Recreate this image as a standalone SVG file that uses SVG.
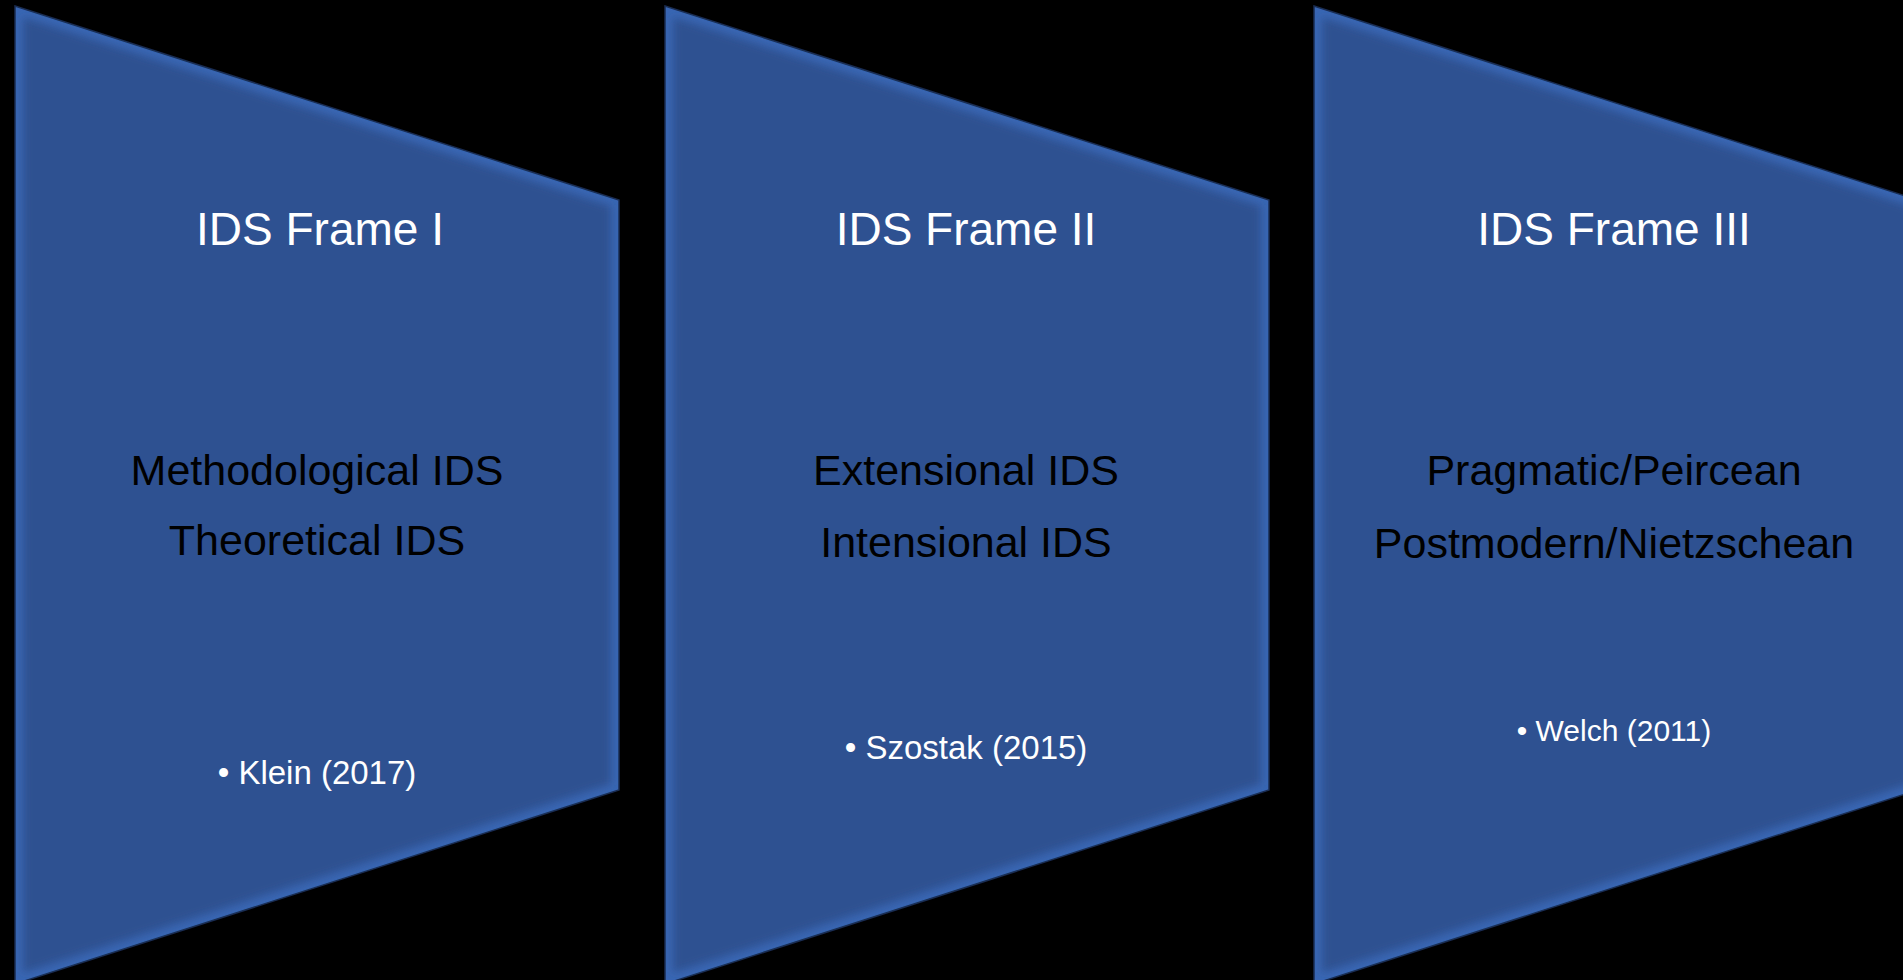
<svg xmlns="http://www.w3.org/2000/svg" xmlns:xlink="http://www.w3.org/1999/xlink" width="1903" height="980" viewBox="0 0 1903 980">
<style>
text{font-family:"Liberation Sans",Arial,sans-serif;text-anchor:middle}
.title{fill:#ffffff;font-size:46px}
.body{fill:#000000;font-size:43px}
.ref{fill:#ffffff;font-size:33px}
</style>
<defs>
<filter id="soft" x="-5%" y="-5%" width="110%" height="110%"><feGaussianBlur stdDeviation="4"/></filter>
<g id="frame">
<polygon points="15,6 619,200 619,790 15,984" fill="#3966b3" stroke="#1a2d52" stroke-width="1.5"/>
<polygon points="23,17 611,206 611,784 23,973" fill="#2f5191" filter="url(#soft)"/>
</g>
</defs>
<rect width="1903" height="980" fill="#000000"/>
<g id="frame1">
<use xlink:href="#frame"/>
<text class="title" x="320" y="245">IDS Frame I</text>
<text class="body" x="317" y="485">Methodological IDS</text>
<text class="body" x="317" y="555">Theoretical IDS</text>
<text class="ref" x="317" y="784">• Klein (2017)</text>
</g>
<g id="frame2">
<use xlink:href="#frame" transform="translate(650,0)"/>
<text class="title" x="966" y="245">IDS Frame II</text>
<text class="body" x="966" y="485">Extensional IDS</text>
<text class="body" x="966" y="557">Intensional IDS</text>
<text class="ref" x="966" y="759">• Szostak (2015)</text>
</g>
<g id="frame3">
<use xlink:href="#frame" transform="translate(1299,0)"/>
<text class="title" x="1614" y="245">IDS Frame III</text>
<text class="body" x="1614" y="485">Pragmatic/Peircean</text>
<text class="body" x="1614" y="558">Postmodern/Nietzschean</text>
<text class="ref" x="1614" y="741" style="font-size:30px">• Welch (2011)</text>
</g>
<g id="connectors"/>
</svg>
